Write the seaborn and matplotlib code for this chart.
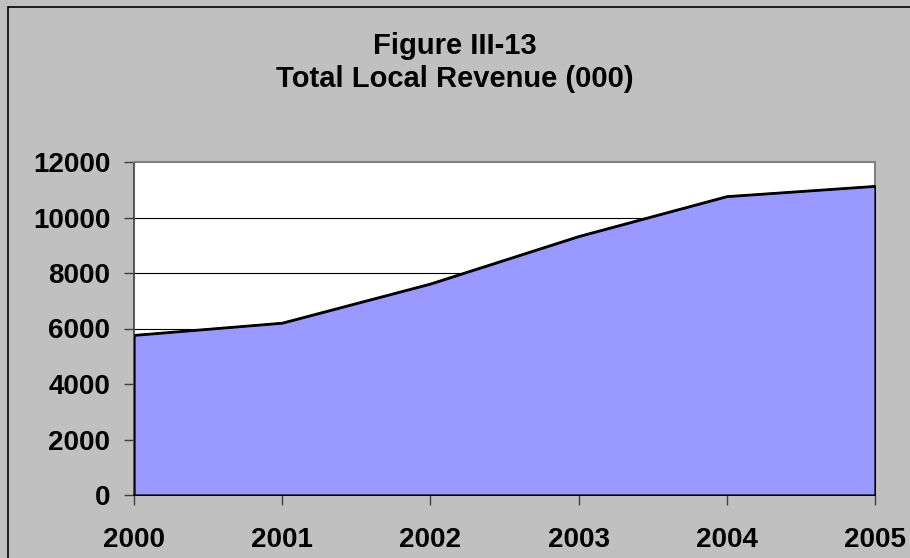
import matplotlib
matplotlib.use("Agg")
import matplotlib.pyplot as plt
import matplotlib.patches as mpatches
import pandas as pd
import seaborn as sns

# data
years = [2000, 2001, 2002, 2003, 2004, 2005]
revenue = [5760, 6200, 7610, 9320, 10760, 11130]
y_ticks = [0, 2000, 4000, 6000, 8000, 10000, 12000]
title_lines = ["Figure III-13", "Total Local Revenue (000)"]

df = pd.DataFrame({"year": years, "revenue": revenue})

sns.set_style("white")
plt.rcParams['font.family'] = ['Liberation Sans', 'DejaVu Sans']
plt.rcParams['font.weight'] = 'bold'
plt.rcParams['text.color'] = 'black'

fig = plt.figure(figsize=(9.1, 5.58), dpi=100, facecolor='#C0C0C0')
ax = fig.add_axes([134 / 910, 1 - 495 / 558, (875 - 134) / 910, (495 - 162) / 558])
ax.set_facecolor('white')

# area under the curve, outlined in black like the Excel area chart
ax.fill_between(df['year'], 0, df['revenue'], facecolor='#9999FF',
                edgecolor='black', linewidth=1.6, zorder=3)
sns.lineplot(data=df, x='year', y='revenue', color='black', linewidth=1.6,
             ax=ax, zorder=4)

ax.set_xlim(years[0], years[-1])
ax.set_ylim(0, 12000)
ax.set_xticks(years)
ax.set_yticks(y_ticks)
ax.set_xticklabels([str(y) for y in years], fontsize=20, fontweight='bold')
ax.set_yticklabels([str(v) for v in y_ticks], fontsize=20, fontweight='bold')
ax.set_xlabel('')
ax.set_ylabel('')

for v in y_ticks[1:-1]:
    ax.axhline(v, color='black', linewidth=0.8, zorder=2)

for side in ['top', 'right']:
    ax.spines[side].set_color('#808080')
    ax.spines[side].set_linewidth(1.5)
ax.spines['left'].set_color('#404040')
ax.spines['left'].set_linewidth(1.2)
ax.spines['bottom'].set_color('black')
ax.spines['bottom'].set_linewidth(1.2)

ax.tick_params(axis='both', direction='out', length=7, width=1, color='#404040',
               left=True, bottom=True, labelcolor='black')
ax.tick_params(axis='x', pad=16)
ax.tick_params(axis='y', pad=10)

fig.text(455 / 910, 1 - 46 / 558, title_lines[0], ha='center', va='center',
         fontsize=21, fontweight='bold', color='black')
fig.text(455 / 910, 1 - 79 / 558, title_lines[1], ha='center', va='center',
         fontsize=21, fontweight='bold', color='black')

# chart-area border (left and top edges are visible, the rest runs off the image)
fig.patches.append(mpatches.Rectangle((8 / 910, -0.2), 2, 1.2 - 7 / 558,
                                      transform=fig.transFigure, fill=False,
                                      edgecolor='black', linewidth=1.2))

fig.savefig('out.png', dpi=100, facecolor=fig.get_facecolor())
